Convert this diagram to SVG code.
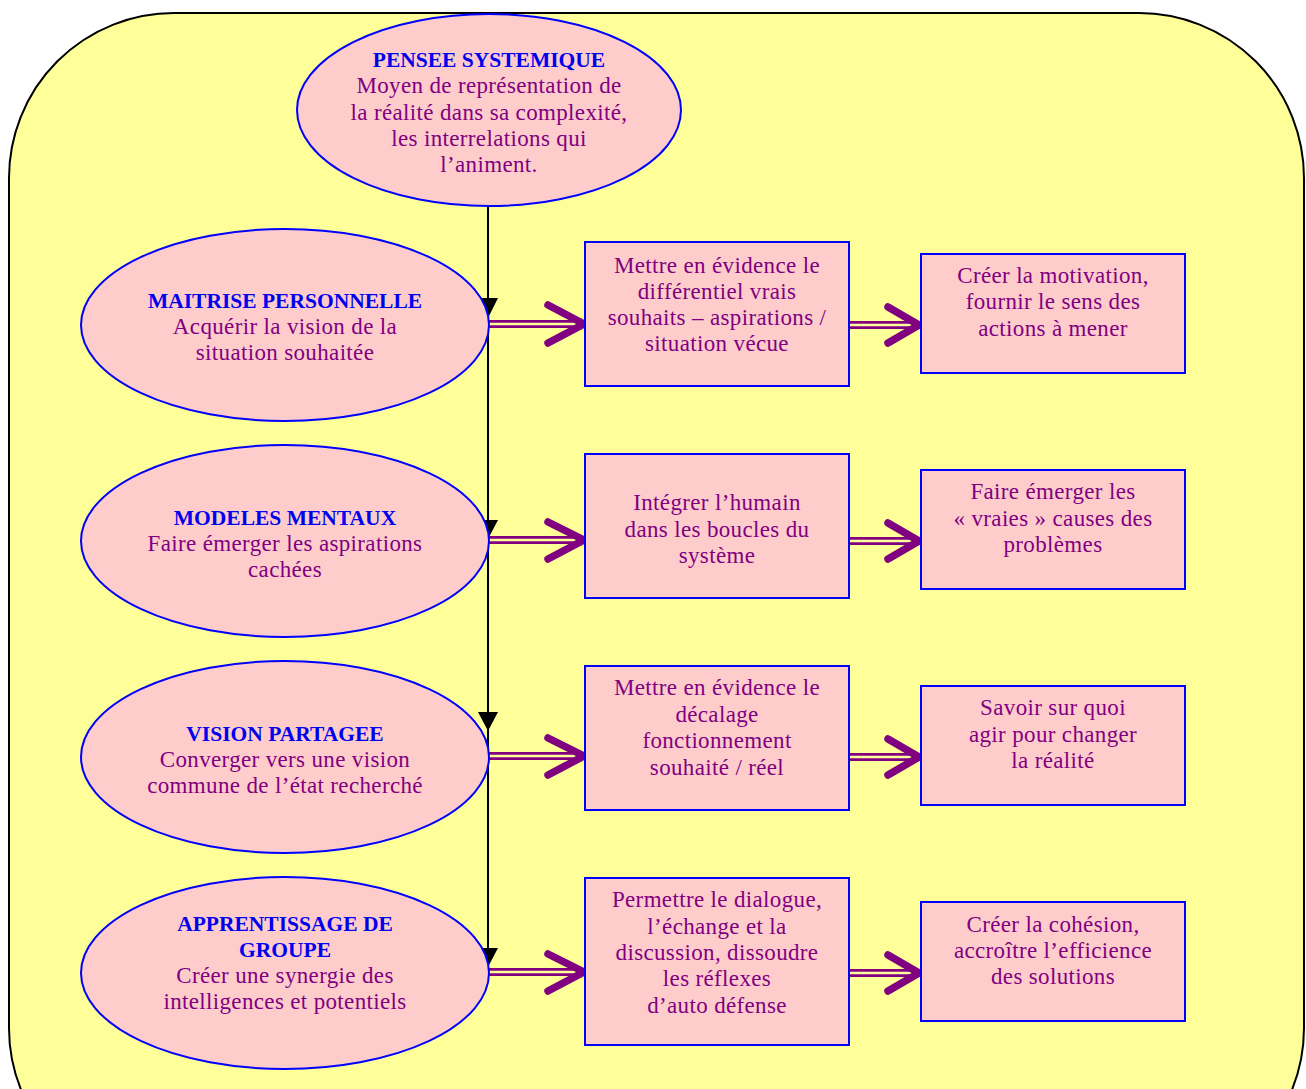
<svg xmlns="http://www.w3.org/2000/svg" width="1306" height="1089" viewBox="0 0 1306 1089">
<defs>
<style>
.node{fill:#FFCCCC;stroke:#0000FF;stroke-width:2}
.t{font-family:"Liberation Serif","Times New Roman",serif;font-size:23px;letter-spacing:0.35px;text-anchor:middle}
.h{fill:#0000EE;font-weight:bold;font-size:21.5px;letter-spacing:0}
.b{fill:#800080}
.vline{stroke:#000;stroke-width:2;fill:none}
.tri{fill:#000}
.shaft{stroke:#800080;stroke-width:8;fill:none}
.gap{stroke:#FFFF99;stroke-width:2.5;fill:none}
.head{stroke:#800080;stroke-width:7.5;fill:none;stroke-linecap:round;stroke-linejoin:round}
</style>
</defs>
<rect width="1306" height="1089" fill="#FFFFFF"/>
<rect id="background" x="9" y="13" width="1295" height="1180" rx="165" ry="165" fill="#FFFF99" stroke="#000" stroke-width="2"/>

<g id="connectors">
<line class="vline" x1="488" y1="205" x2="488" y2="964"/>
<polygon class="tri" points="478,298 498,298 488,318"/>
<polygon class="tri" points="478,520 498,520 488,539"/>
<polygon class="tri" points="478,712 498,712 488,731"/>
<polygon class="tri" points="478,948 498,948 488,967"/>

<g id="arrows-row1">
<line class="shaft" x1="489" y1="324" x2="582" y2="324"/><line class="gap" x1="489" y1="324" x2="578" y2="324"/>
<polyline class="head" points="548,305 584,324 548,343"/>
<line class="shaft" x1="849" y1="325" x2="918" y2="325"/><line class="gap" x1="849" y1="325" x2="914" y2="325"/>
<polyline class="head" points="888,307 919,325 888,343"/>
</g>
<g id="arrows-row2">
<line class="shaft" x1="489" y1="540" x2="582" y2="540"/><line class="gap" x1="489" y1="540" x2="578" y2="540"/>
<polyline class="head" points="548,522 584,540 548,559"/>
<line class="shaft" x1="849" y1="541" x2="918" y2="541"/><line class="gap" x1="849" y1="541" x2="914" y2="541"/>
<polyline class="head" points="888,523 919,541 888,559"/>
</g>
<g id="arrows-row3">
<line class="shaft" x1="489" y1="756" x2="582" y2="756"/><line class="gap" x1="489" y1="756" x2="578" y2="756"/>
<polyline class="head" points="548,738 584,756 548,775"/>
<line class="shaft" x1="849" y1="757" x2="918" y2="757"/><line class="gap" x1="849" y1="757" x2="914" y2="757"/>
<polyline class="head" points="888,739 919,757 888,775"/>
</g>
<g id="arrows-row4">
<line class="shaft" x1="489" y1="972" x2="582" y2="972"/><line class="gap" x1="489" y1="972" x2="578" y2="972"/>
<polyline class="head" points="548,954 584,972 548,991"/>
<line class="shaft" x1="849" y1="973" x2="918" y2="973"/><line class="gap" x1="849" y1="973" x2="914" y2="973"/>
<polyline class="head" points="888,955 919,973 888,991"/>
</g>
</g>

<g id="pensee">
<ellipse class="node" cx="489" cy="110" rx="192" ry="96"/>
<text class="t h" x="489" y="67">PENSEE SYSTEMIQUE</text>
<text class="t b" x="489" y="93">Moyen de représentation de</text>
<text class="t b" x="489" y="120">la réalité dans sa  complexité,</text>
<text class="t b" x="489" y="146">les interrelations qui</text>
<text class="t b" x="489" y="172">l’animent.</text>
</g>

<g id="maitrise">
<ellipse class="node" cx="285" cy="325" rx="204" ry="96"/>
<text class="t h" x="285" y="308">MAITRISE PERSONNELLE</text>
<text class="t b" x="285" y="334">Acquérir la vision de la</text>
<text class="t b" x="285" y="360">situation souhaitée</text>
</g>

<g id="modeles">
<ellipse class="node" cx="285" cy="541" rx="204" ry="96"/>
<text class="t h" x="285" y="525">MODELES MENTAUX</text>
<text class="t b" x="285" y="551">Faire émerger les aspirations</text>
<text class="t b" x="285" y="577">cachées</text>
</g>

<g id="vision">
<ellipse class="node" cx="285" cy="757" rx="204" ry="96"/>
<text class="t h" x="285" y="741">VISION PARTAGEE</text>
<text class="t b" x="285" y="767">Converger vers une vision</text>
<text class="t b" x="285" y="793">commune de  l’état recherché</text>
</g>

<g id="apprentissage">
<ellipse class="node" cx="285" cy="973" rx="204" ry="96"/>
<text class="t h" x="285" y="931">APPRENTISSAGE DE</text>
<text class="t h" x="285" y="957">GROUPE</text>
<text class="t b" x="285" y="983">Créer une synergie des</text>
<text class="t b" x="285" y="1009">intelligences et  potentiels</text>
</g>

<g id="box-m1">
<rect class="node" x="585" y="242" width="264" height="144"/>
<text class="t b" x="717" y="273">Mettre en évidence le</text>
<text class="t b" x="717" y="299">différentiel vrais</text>
<text class="t b" x="717" y="325">souhaits – aspirations /</text>
<text class="t b" x="717" y="351">situation vécue</text>
</g>

<g id="box-m2">
<rect class="node" x="585" y="454" width="264" height="144"/>
<text class="t b" x="717" y="510">Intégrer l’humain</text>
<text class="t b" x="717" y="537">dans les boucles du</text>
<text class="t b" x="717" y="563">système</text>
</g>

<g id="box-m3">
<rect class="node" x="585" y="666" width="264" height="144"/>
<text class="t b" x="717" y="695">Mettre en évidence le</text>
<text class="t b" x="717" y="722">décalage</text>
<text class="t b" x="717" y="748">fonctionnement</text>
<text class="t b" x="717" y="775">souhaité  /  réel</text>
</g>

<g id="box-m4">
<rect class="node" x="585" y="878" width="264" height="167"/>
<text class="t b" x="717" y="907">Permettre le dialogue,</text>
<text class="t b" x="717" y="934">l’échange et la</text>
<text class="t b" x="717" y="960">discussion, dissoudre</text>
<text class="t b" x="717" y="986">les réflexes</text>
<text class="t b" x="717" y="1013">d’auto défense</text>
</g>

<g id="box-r1">
<rect class="node" x="921" y="254" width="264" height="119"/>
<text class="t b" x="1053" y="283">Créer la motivation,</text>
<text class="t b" x="1053" y="309">fournir le sens  des</text>
<text class="t b" x="1053" y="336">actions  à mener</text>
</g>

<g id="box-r2">
<rect class="node" x="921" y="470" width="264" height="119"/>
<text class="t b" x="1053" y="499">Faire émerger les</text>
<text class="t b" x="1053" y="526">« vraies » causes  des</text>
<text class="t b" x="1053" y="552">problèmes</text>
</g>

<g id="box-r3">
<rect class="node" x="921" y="686" width="264" height="119"/>
<text class="t b" x="1053" y="715">Savoir sur quoi</text>
<text class="t b" x="1053" y="742">agir pour  changer</text>
<text class="t b" x="1053" y="768">la  réalité</text>
</g>

<g id="box-r4">
<rect class="node" x="921" y="902" width="264" height="119"/>
<text class="t b" x="1053" y="932">Créer la cohésion,</text>
<text class="t b" x="1053" y="958">accroître l’efficience</text>
<text class="t b" x="1053" y="984">des solutions</text>
</g>
</svg>
